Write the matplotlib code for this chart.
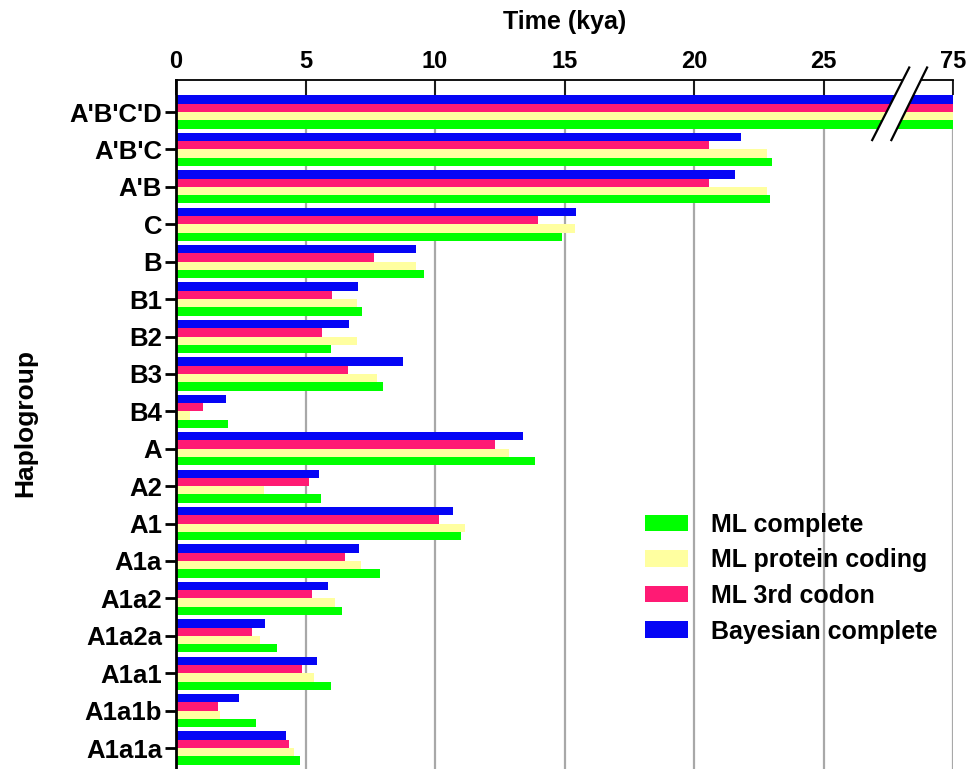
import numpy as np
import matplotlib.pyplot as plt
from matplotlib.patches import Polygon, Patch

# ── data (kya); A'B'C'D is the broken 75 kya bar
groups = ["A'B'C'D", "A'B'C", "A'B", "C", "B", "B1", "B2", "B3", "B4",
          "A", "A2", "A1", "A1a", "A1a2", "A1a2a", "A1a1", "A1a1b", "A1a1a"]
bayes_complete = [30, 21.8, 21.6, 15.45, 9.28, 7.04, 6.68, 8.77, 1.92,
                  13.41, 5.51, 10.71, 7.08, 5.86, 3.44, 5.45, 2.44, 4.25]
ml_3rd_codon = [30, 20.59, 20.59, 13.97, 7.66, 6.02, 5.64, 6.65, 1.03,
                12.31, 5.14, 10.17, 6.54, 5.27, 2.92, 4.88, 1.62, 4.36]
ml_protein = [30, 22.82, 22.82, 15.42, 9.25, 6.98, 6.98, 7.75, 0.53,
              12.85, 3.38, 11.16, 7.16, 6.14, 3.23, 5.33, 1.71, 4.56]
ml_complete = [30, 23.03, 22.95, 14.90, 9.58, 7.19, 5.99, 8.01, 2.01,
               13.86, 5.58, 10.99, 7.87, 6.39, 3.89, 6.00, 3.10, 4.79]
xticks = [0, 5, 10, 15, 20, 25, 30]
xticklabels = ['0', '5', '10', '15', '20', '25', '75']

GREEN, YELLOW, PINK, BLUE = '#00ff00', '#ffffa0', '#ff1a74', '#0505f5'
FONT = ['Liberation Sans', 'DejaVu Sans']

fig = plt.figure(figsize=(9.72, 7.69), dpi=100)
ax = fig.add_axes([176 / 972, 0.0, 777 / 972, 689 / 769])

y = np.arange(len(groups))
h = 0.222
series = [(bayes_complete, BLUE, -1.5), (ml_3rd_codon, PINK, -0.5),
          (ml_protein, YELLOW, 0.5), (ml_complete, GREEN, 1.5)]
for vals, col, off in series:
    ax.barh(y + off * h, vals, height=h, color=col, linewidth=0, zorder=2)

ax.set_xlim(0, 30)
ax.set_ylim(17.56, -0.856)

# grid
for gx in [5, 10, 15, 20, 25, 30]:
    ax.axvline(gx, color='#a8a8a8', lw=1.6, zorder=1)

ax.xaxis.tick_top()
ax.set_xticks(xticks)
ax.set_xticklabels(xticklabels, fontsize=17, fontweight='bold', family=FONT)
ax.tick_params(axis='x', direction='in', length=11, width=1.2, pad=5,
               color='black')
ax.set_yticks(y)
ax.set_yticklabels(groups, fontsize=18.5, fontweight='bold', family=FONT)
ax.tick_params(axis='y', direction='out', length=8, width=2, pad=2)

for s in ['bottom', 'right']:
    ax.spines[s].set_visible(False)
ax.spines['left'].set_linewidth(2)
ax.spines['top'].set_linewidth(1.3)

fig.text(565 / 972, 1 - 22 / 769, 'Time (kya)', ha='center', va='center',
         fontsize=18, fontweight='bold', family=FONT)
fig.text(25 / 972, 1 - 423 / 769, 'Haplogroup', ha='center', va='center',
         rotation=90, fontsize=19, fontweight='bold', family=FONT)

# axis break
x1a, x1b, x2a, x2b = 26.88, 28.31, 27.62, 29.0
yb, yt = 0.75, -1.19
ax.add_patch(Polygon([[x1a, yb], [x1b, yt], [x2b, yt], [x2a, yb]],
                     closed=True, facecolor='white', edgecolor='none',
                     zorder=5, clip_on=False))
ax.plot([x1a, x1b], [yb, yt], color='black', lw=1.6, zorder=6, clip_on=False)
ax.plot([x2a, x2b], [yb, yt], color='black', lw=1.6, zorder=6, clip_on=False)

handles = [Patch(facecolor=GREEN, label='ML complete'),
           Patch(facecolor=YELLOW, label='ML protein coding'),
           Patch(facecolor=PINK, label='ML 3rd codon'),
           Patch(facecolor=BLUE, label='Bayesian complete')]
leg = fig.legend(handles=handles, loc='upper left',
                 bbox_to_anchor=(645 / 972, 1 - 513 / 769), frameon=False,
                 prop={'family': FONT, 'weight': 'bold', 'size': 18},
                 handlelength=1.72, handleheight=0.64, handletextpad=0.92,
                 labelspacing=0.46, borderpad=0, borderaxespad=0)

fig.savefig('out.png', dpi=100)
